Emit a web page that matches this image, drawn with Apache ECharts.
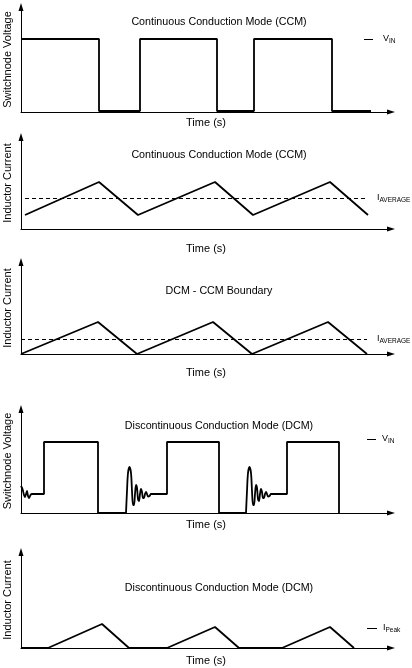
<!DOCTYPE html>
<html><head><meta charset="utf-8">
<script src="https://cdn.jsdelivr.net/npm/echarts@6/dist/echarts.min.js"></script>
<style>html,body{margin:0;padding:0;background:#fff}#c{width:412px;height:668px}</style>
</head><body><div id="c"></div>
<script>
// ---- Data (time in arbitrary units, signal heights in arbitrary units) ----
const panelTitles = ['Continuous Conduction Mode (CCM)', 'Continuous Conduction Mode (CCM)', 'DCM - CCM Boundary', 'Discontinuous Conduction Mode (DCM)', 'Discontinuous Conduction Mode (DCM)'];
const yAxisNames = ['Switchnode Voltage', 'Inductor Current', 'Inductor Current', 'Switchnode Voltage', 'Inductor Current'];
const xAxisName = 'Time (s)';
const yMax = [105, 92, 92, 104, 96];
const tMax = 370;

// Panel 1: CCM switch node voltage
const ccmSwitchT = [0, 78, 78, 119, 119, 196, 196, 233, 233, 311, 311, 350];
const ccmSwitchV = [73, 73, 1, 1, 73, 73, 1, 1, 73, 73, 1, 1];
const ccmVin = 73;
const ccmVinMarkT = [343, 352];

// Panel 2: CCM inductor current
const ccmCurrentT = [4, 78, 117, 194, 232, 309, 347];
const ccmCurrentI = [14, 47, 14, 47, 14, 47, 14];
const ccmAverage = 31;
const ccmAverageT = [4, 346];

// Panel 3: boundary inductor current
const bcmCurrentT = [0, 77, 116, 192, 231, 307, 346];
const bcmCurrentI = [0, 32, 0, 32, 0, 32, 0];
const bcmAverage = 15;
const bcmAverageT = [0, 346];

// Panel 4: DCM switch node voltage (step parts and ringing parts)
const dcmRing0 = [[0, 27], [1.5, 24], [3, 18], [4, 16], [5, 19], [6, 22], [7, 17], [8, 15], [9.5, 18], [11, 19], [12, 19]];
const dcmStep0 = [[12, 19], [23, 19], [23, 71], [77, 71], [77, 0], [105, 0]];
const dcmRing1 = [[105, 0], [106, 22], [107, 40], [108.5, 46], [110, 40], [111, 22], [112, 8], [113, 8], [114, 19], [115, 28], [116, 25], [117, 14], [118, 12], [119, 19], [120, 24], [121, 21], [122, 15], [123, 15], [124, 19], [125, 21], [126, 19], [127, 16.5], [128.5, 17], [130, 19], [131, 19]];
const dcmStep1 = [[131, 19], [146, 19], [146, 71], [198, 71], [198, 0], [225, 0]];
const dcmRing2 = [[225, 0], [226, 22], [227, 40], [228.5, 46], [230, 40], [231, 22], [232, 8], [233, 8], [234, 19], [235, 28], [236, 25], [237, 14], [238, 12], [239, 19], [240, 24], [241, 21], [242, 15], [243, 15], [244, 19], [245, 21], [246, 19], [247, 16.5], [248.5, 17], [250, 19], [251, 19]];
const dcmStep2 = [[251, 19], [266, 19], [266, 71], [318, 71], [318, 0]];
const dcmVin = 74;
const dcmVinMarkT = [346, 355];

// Panel 5: DCM inductor current
const dcmCurrentT = [0, 27, 81, 108, 146, 194, 218, 261, 309, 333];
const dcmCurrentI = [0, 0, 24, 0, 0, 21, 0, 0, 21, 0];
const dcmPeak = 20;
const dcmPeakMarkT = [346, 356];

// ---- Layout ----
const FONT = "'Liberation Sans', Arial, sans-serif";
const grids = [
  { left: 21, top: 7, width: 370, height: 105 },
  { left: 21, top: 137, width: 370, height: 92 },
  { left: 21, top: 262, width: 370, height: 92 },
  { left: 21, top: 409, width: 370, height: 104 },
  { left: 21, top: 552, width: 370, height: 96 }
].map(g => Object.assign(g, { outerBoundsMode: 'none', containLabel: false }));
const xNameGaps = [5, 14, 13, 6, 7];
const titleCenters = [21, 154, 290, 425, 587];

function zip(a, b) { return a.map((v, i) => [v, b[i]]); }

const lineStyle = { color: '#000', width: 1.8 };
function wave(idx, data, smooth) {
  return { type: 'line', xAxisIndex: idx, yAxisIndex: idx, data: data, showSymbol: false, symbol: 'none',
    smooth: smooth ? 0.3 : false, lineStyle: lineStyle, silent: true, clip: false, z: 3 };
}
const rich = {
  m: { fontSize: 9, fontFamily: FONT, color: '#000' },
  s: { fontSize: 6.5, fontFamily: FONT, color: '#000', padding: [4, 0, 0, 0] }
};
function marker(level, span, main, sub, dashed, dist) {
  return {
    silent: true, symbol: 'none', animation: false,
    lineStyle: { color: '#000', width: 1, type: dashed ? [4, 3] : 'solid' },
    label: { show: true, position: 'end', distance: dist, formatter: '{m|' + main + '}{s|' + sub + '}', rich: rich },
    data: [[{ coord: [span[0], level] }, { coord: [span[1], level] }]]
  };
}

const series = [];
const s1 = wave(0, zip(ccmSwitchT, ccmSwitchV));
s1.markLine = marker(ccmVin, ccmVinMarkT, 'V', 'IN', false, 10);
series.push(s1);
const s2 = wave(1, zip(ccmCurrentT, ccmCurrentI));
s2.markLine = marker(ccmAverage, ccmAverageT, 'I', 'AVERAGE', true, 10);
series.push(s2);
const s3 = wave(2, zip(bcmCurrentT, bcmCurrentI));
s3.markLine = marker(bcmAverage, bcmAverageT, 'I', 'AVERAGE', true, 10);
series.push(s3);
series.push(wave(3, dcmRing0, true));
const s4 = wave(3, dcmStep0);
s4.markLine = marker(dcmVin, dcmVinMarkT, 'V', 'IN', false, 6);
series.push(s4);
series.push(wave(3, dcmRing1, true));
series.push(wave(3, dcmStep1));
series.push(wave(3, dcmRing2, true));
series.push(wave(3, dcmStep2));
const s5 = wave(4, zip(dcmCurrentT, dcmCurrentI));
s5.markLine = marker(dcmPeak, dcmPeakMarkT, 'I', 'Peak', false, 6);
series.push(s5);

const axisLine = { show: true, symbol: ['none', 'triangle'], symbolSize: [5, 8], lineStyle: { color: '#000', width: 1 } };
const nameStyle = { fontSize: 11, fontFamily: FONT, color: '#000' };

const option = {
  animation: false,
  backgroundColor: '#fff',
  title: panelTitles.map((t, i) => ({
    text: t, left: 219, top: titleCenters[i] - 4, textAlign: 'center', padding: 0,
    textStyle: { fontSize: 10.7, fontWeight: 'normal', fontFamily: FONT, color: '#000' }
  })),
  grid: grids,
  xAxis: grids.map((g, i) => ({
    type: 'value', gridIndex: i, min: 0, max: tMax,
    name: xAxisName, nameLocation: 'middle', nameGap: xNameGaps[i], nameTextStyle: nameStyle,
    axisLine: axisLine, axisTick: { show: false }, axisLabel: { show: false }, splitLine: { show: false }
  })),
  yAxis: grids.map((g, i) => ({
    type: 'value', gridIndex: i, min: 0, max: yMax[i],
    name: yAxisNames[i], nameLocation: 'middle', nameGap: 8, nameTextStyle: nameStyle,
    axisLine: axisLine, axisTick: { show: false }, axisLabel: { show: false }, splitLine: { show: false }
  })),
  series: series
};

const chart = echarts.init(document.getElementById('c'), null, { renderer: 'canvas' });
chart.setOption(option);
</script>
</body></html>
